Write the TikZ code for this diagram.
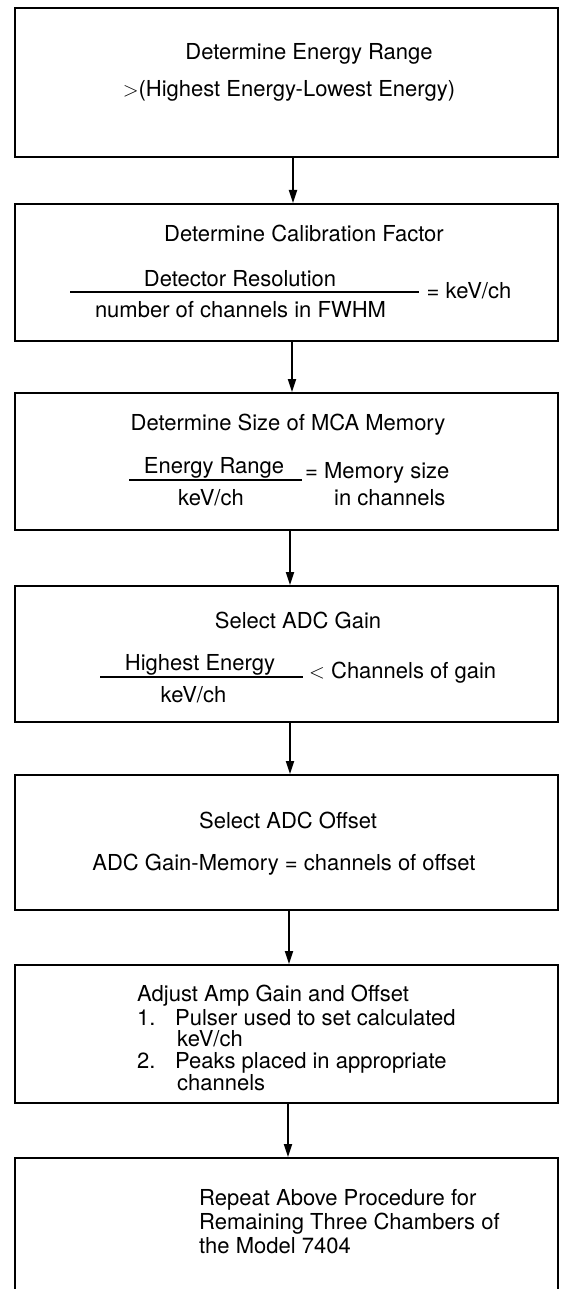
\documentclass[tikz,border=0pt]{standalone}
\usepackage{fontspec}
\setmainfont{TeX Gyre Heros}
\usetikzlibrary{arrows.meta}
\begin{document}
\begin{tikzpicture}[x=1pt,y=-1pt,
  stepbox/.style={draw,line width=2pt,inner sep=0pt,minimum width=543pt},
  txt/.style={inner sep=0pt,font=\fontsize{22}{26}\selectfont,text height=16pt,text depth=0pt},
  ltxt/.style={txt,anchor=west},
  fracline/.style={line width=1.6pt},
  flow/.style={line width=1.8pt,-{Triangle[length=13pt,width=8pt]}}]
\useasboundingbox (0,0) rectangle (561,1289);
\clip (0,0) rectangle (561,1289);
% boxes
\node[stepbox,minimum height=149pt] (b1) at (286.5,82.5) {};
\node[stepbox,minimum height=137pt] (b2) at (286.5,272.5) {};
\node[stepbox,minimum height=137pt] (b3) at (286.5,461.5) {};
\node[stepbox,minimum height=136pt] (b4) at (286.5,654) {};
\node[stepbox,minimum height=135pt] (b5) at (286.5,842.5) {};
\node[stepbox,minimum height=138pt] (b6) at (286.5,1034) {};
\node[stepbox,minimum height=150pt] (b7) at (286.5,1233) {};
% connectors
\draw[flow] ([xshift=6.5pt]b1.south) -- ([xshift=6.5pt]b2.north);
\draw[flow] ([xshift=5.5pt]b2.south) -- ([xshift=5.5pt]b3.north);
\draw[flow] ([xshift=3.5pt]b3.south) -- ([xshift=3.5pt]b4.north);
\draw[flow] ([xshift=3.5pt]b4.south) -- ([xshift=3.5pt]b5.north);
\draw[flow] ([xshift=2.5pt]b5.south) -- ([xshift=2.5pt]b6.north);
\draw[flow] ([xshift=1.5pt]b6.south) -- ([xshift=1.5pt]b7.north);
% box 1
\node[txt] (t1a) at (309,52) {Determine Energy Range};
\node[txt] (t1b) at (289,89) {$>$(Highest Energy-Lowest Energy)};
% box 2
\node[txt] (t2a) at (304,233.5) {Determine Calibration Factor};
\node[txt] (t2n) at (240,278.5) {Detector Resolution};
\draw[fracline] (70,292) -- (419,292);
\node[txt] (t2d) at (240.5,309) {number of channels in FWHM};
\node[txt] (t2r) at (469,290) {= keV/ch};
% box 3
\node[txt] (t3a) at (288,422) {Determine Size of MCA Memory};
\node[txt] (t3n) at (214,465) {Energy Range};
\draw[fracline] (129,480) -- (302,480);
\node[txt] (t3d) at (211,497) {keV/ch};
\node[ltxt] (t3r) at (305,470) {= Memory size};
\node[ltxt] (t3s) at (334,497) {in channels};
% box 4
\node[txt] (t4a) at (298,620) {Select ADC Gain};
\node[txt] (t4n) at (200,662) {Highest Energy};
\draw[fracline] (100,677) -- (303,677);
\node[txt] (t4d) at (193.5,694) {keV/ch};
\node[ltxt] (t4r) at (309,670) {$<$ Channels of gain};
% box 5
\node[txt] (t5a) at (288,820) {Select ADC Offset};
\node[txt] (t5b) at (284,862) {ADC Gain-Memory = channels of offset};
% box 6
\node[ltxt] (t6a) at (137,993) {Adjust Amp Gain and Offset};
\node[ltxt] (t6b) at (137,1017) {1.};
\node[ltxt] (t6c) at (175,1017) {Pulser used to set calculated};
\node[ltxt] (t6d) at (177,1038) {keV/ch};
\node[ltxt] (t6e) at (137,1060) {2.};
\node[ltxt] (t6f) at (175,1060) {Peaks placed in appropriate};
\node[ltxt] (t6g) at (177,1082) {channels};
% box 7
\node[ltxt] (t7a) at (199,1197) {Repeat Above Procedure for};
\node[ltxt] (t7b) at (199,1221) {Remaining Three Chambers of};
\node[ltxt] (t7c) at (199,1245) {the Model 7404};
\end{tikzpicture}
\end{document}
